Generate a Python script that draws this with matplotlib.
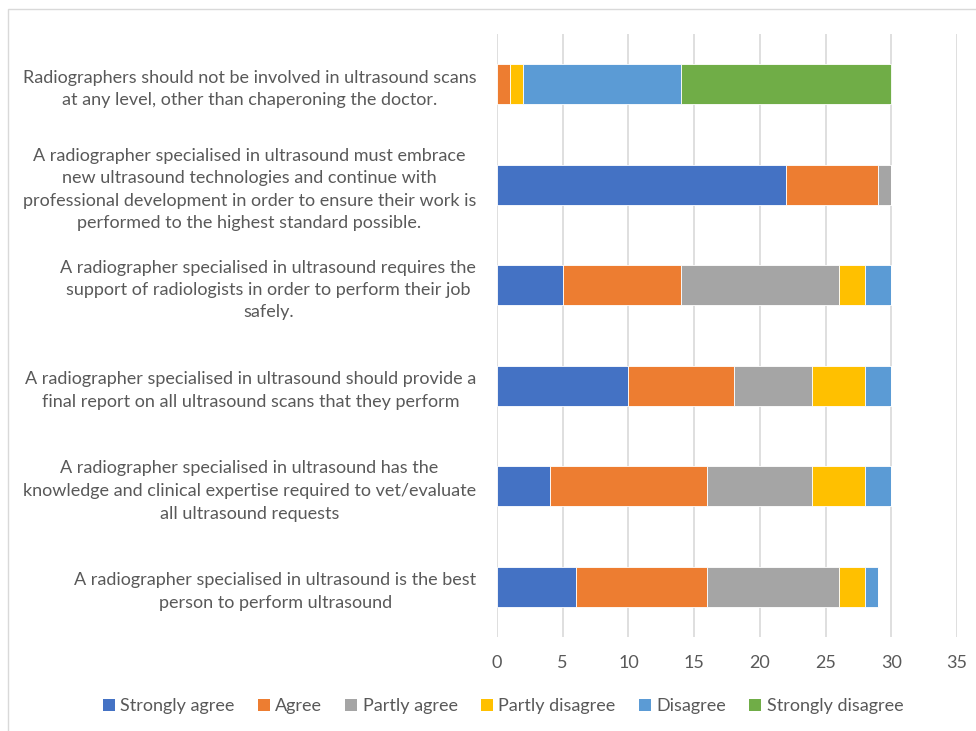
import matplotlib
matplotlib.use("Agg")
import matplotlib.pyplot as plt
from matplotlib.patches import Rectangle, Patch
import numpy as np

categories = [
    "Radiographers should not be involved in ultrasound scans\nat any level, other than chaperoning the doctor.",
    "A radiographer specialised in ultrasound must embrace\nnew ultrasound technologies and continue with\nprofessional development in order to ensure their work is\nperformed to the highest standard possible.",
    "A radiographer specialised in ultrasound requires the\nsupport of radiologists in order to perform their job\nsafely.",
    "A radiographer specialised in ultrasound should provide a\nfinal report on all ultrasound scans that they perform",
    "A radiographer specialised in ultrasound has the\nknowledge and clinical expertise required to vet/evaluate\nall ultrasound requests",
    "A radiographer specialised in ultrasound is the best\nperson to perform ultrasound",
]
series_names = ["Strongly agree", "Agree", "Partly agree", "Partly disagree", "Disagree", "Strongly disagree"]
strongly_agree    = [0, 22, 5, 10, 4, 6]
agree             = [1, 7, 9, 8, 12, 10]
partly_agree      = [0, 1, 12, 6, 8, 10]
partly_disagree   = [1, 0, 2, 4, 4, 2]
disagree          = [12, 0, 2, 2, 2, 1]
strongly_disagree = [16, 0, 0, 0, 0, 0]
series_values = [strongly_agree, agree, partly_agree, partly_disagree, disagree, strongly_disagree]
colors = ["#4472C4", "#ED7D31", "#A5A5A5", "#FFC000", "#5B9BD5", "#70AD47"]
xticks = [0, 5, 10, 15, 20, 25, 30, 35]

plt.rcParams['font.family'] = ['Lato', 'DejaVu Sans']
text_color = "#595959"

fig = plt.figure(figsize=(9.76, 7.31), dpi=100)
# chart frame
fig.patches.append(Rectangle((8/976, -0.1), 1.2, (731-9)/731 + 0.1, transform=fig.transFigure,
                             fill=False, edgecolor="#D9D9D9", linewidth=1.0))

ax = fig.add_axes([497/976, (731-637)/731, 460/976, 603/731])
y = np.arange(len(categories))
left = np.zeros(len(categories))
for name, vals, c in zip(series_names, series_values, colors):
    v = np.array(vals, dtype=float)
    ax.barh(y, v, left=left, height=0.4, color=c, edgecolor="white", linewidth=0.6, label=name, zorder=3)
    left += v

ax.set_xlim(0, 35)
ax.set_ylim(len(categories) - 0.5, -0.5)
ax.set_xticks(xticks)
ax.set_xticklabels([str(t) for t in xticks])
ax.set_yticks(y)
ax.set_yticklabels(categories)
for t in ax.get_yticklabels():
    t.set_multialignment('center')
    t.set_linespacing(1.5)
ax.tick_params(axis='both', length=0, labelsize=13, colors=text_color)
ax.tick_params(axis='y', pad=15)
ax.tick_params(axis='x', pad=13)
ax.grid(axis='x', color="#D9D9D9", linewidth=1.2, zorder=0)
for s in ax.spines.values():
    s.set_visible(False)

handles = [Patch(facecolor=c, edgecolor='none', label=n) for n, c in zip(series_names, colors)]
fig.legend(handles=handles, loc='center', bbox_to_anchor=(503/976, (731-706)/731), ncol=6,
           frameon=False, fontsize=13, labelcolor=text_color, handlelength=0.65, handleheight=0.65,
           handletextpad=0.3, columnspacing=1.3)

fig.savefig("out.png", dpi=100)
